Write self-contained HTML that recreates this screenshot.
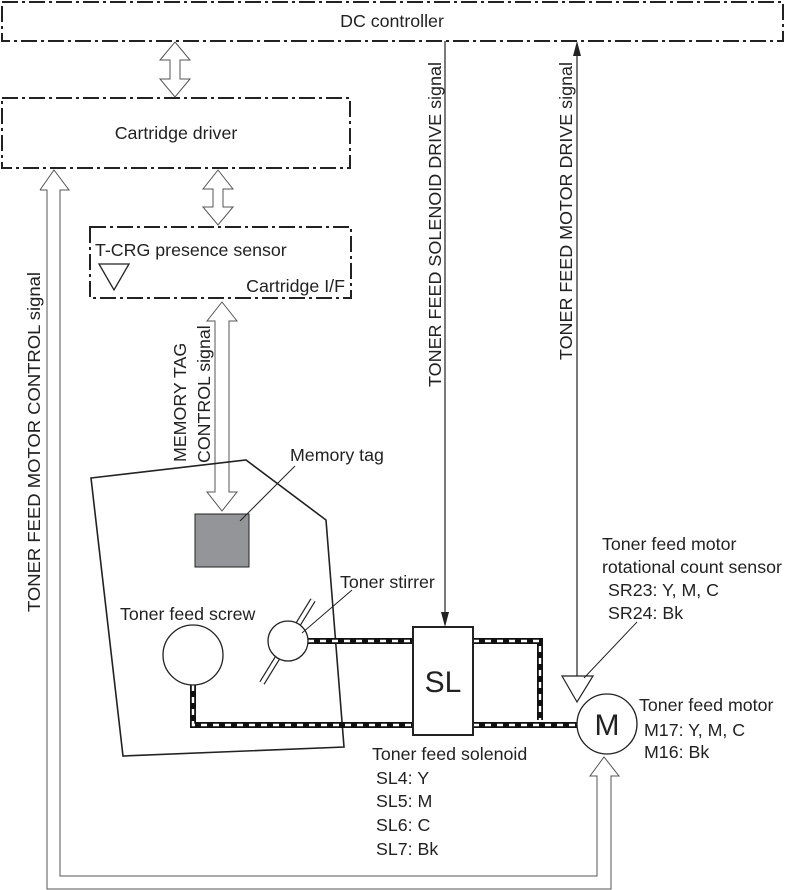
<!DOCTYPE html>
<html><head><meta charset="utf-8"><style>
html,body{margin:0;padding:0;background:#fff}
svg{display:block}
text{font-family:"Liberation Sans",Arial,sans-serif;font-size:17.8px;fill:#222}
</style></head><body>
<svg width="785" height="890" viewBox="0 0 785 890" xmlns="http://www.w3.org/2000/svg">
<g fill="none" stroke="#222" stroke-width="2" stroke-dasharray="16,4,3,4">
<rect x="2" y="2" width="781" height="39"/>
<rect x="2" y="98" width="348" height="70"/>
<rect x="90" y="227" width="261" height="71"/>
</g>
<text x="392" y="27" text-anchor="middle">DC controller</text>
<text x="176" y="139" text-anchor="middle">Cartridge driver</text>
<text x="95" y="256">T-CRG presence sensor</text>
<text x="345" y="292" text-anchor="end">Cartridge I/F</text>
<polygon points="99,264 129,264 114,290" fill="none" stroke="#222" stroke-width="1.3"/>

<g fill="#fff" stroke="#555" stroke-width="1">
<polygon points="175,42 190,60 180,60 180,79 190,79 175,97 160,79 170,79 170,60 160,60"/>
<polygon points="218,170 233,189 223,189 223,207 233,207 218,225 203,207 213,207 213,189 203,189"/>
<polygon points="222,302 237,321 229,321 229,492 237,492 222,511 207,492 215,492 215,321 207,321"/>
<polyline points="40,190 54,170 69,190 60,190 60,876 597,876 597,776 590,776 604,757 619,776 611,776 611,889 47,889 47,190 40,190"/>
</g>

<polygon points="91,478 246,460 326,520 344,747 123,756" fill="none" stroke="#222" stroke-width="1.6"/>
<rect x="195" y="514" width="54" height="53" fill="#939598" stroke="#222" stroke-width="1"/>
<line x1="295" y1="466" x2="240" y2="521" stroke="#222" stroke-width="1"/>
<text x="290" y="461">Memory tag</text>
<text transform="translate(186,462) rotate(-90)">MEMORY TAG</text>
<text transform="translate(210,463) rotate(-90)">CONTROL signal</text>

<text transform="translate(40,612) rotate(-90)" textLength="340" lengthAdjust="spacingAndGlyphs">TONER FEED MOTOR CONTROL signal</text>
<text transform="translate(441,387) rotate(-90)" textLength="325" lengthAdjust="spacingAndGlyphs">TONER FEED SOLENOID DRIVE signal</text>
<text transform="translate(572,360) rotate(-90)" textLength="298" lengthAdjust="spacingAndGlyphs">TONER FEED MOTOR DRIVE signal</text>

<line x1="445" y1="41" x2="445" y2="612" stroke="#222" stroke-width="1.2"/>
<polygon points="441,612 449,612 445,627" fill="#222"/>
<line x1="577" y1="56" x2="577" y2="676" stroke="#222" stroke-width="1.2"/>
<polygon points="573,56 581,56 577,41" fill="#222"/>

<g fill="none" stroke-linejoin="miter">
<polyline points="308,641 413,641" stroke="#111" stroke-width="6"/>
<polyline points="473,641 540,641 540,720" stroke="#111" stroke-width="6"/>
<polyline points="193,685 193,725 413,725" stroke="#111" stroke-width="6"/>
<polyline points="473,725 577,725" stroke="#111" stroke-width="6"/>
<g stroke="#fff" stroke-width="2.4" stroke-dasharray="6,6">
<polyline points="308,641 413,641"/>
<polyline points="473,641 540,641 540,720"/>
<polyline points="193,685 193,725 413,725"/>
<polyline points="473,725 577,725"/>
</g>
</g>

<circle cx="193" cy="655" r="30" fill="#fff" stroke="#222" stroke-width="1.3"/>
<text x="120" y="620">Toner feed screw</text>
<line x1="262" y1="683" x2="313" y2="600" stroke="#222" stroke-width="6"/>
<line x1="262" y1="683" x2="313" y2="600" stroke="#fff" stroke-width="3.6"/>
<circle cx="288" cy="641" r="20" fill="#fff" stroke="#222" stroke-width="1.3"/>
<line x1="352" y1="590" x2="302" y2="633" stroke="#222" stroke-width="1"/>
<text x="340" y="588">Toner stirrer</text>

<rect x="413" y="627" width="60" height="108" fill="#fff" stroke="#222" stroke-width="2"/>
<text x="443" y="692" text-anchor="middle" style="font-size:30px">SL</text>
<text x="372" y="760">Toner feed solenoid</text>
<text x="376" y="784">SL4: Y</text>
<text x="376" y="807">SL5: M</text>
<text x="376" y="831">SL6: C</text>
<text x="376" y="855">SL7: Bk</text>

<polygon points="562,676 593,676 577,702" fill="#fff" stroke="#222" stroke-width="1.2"/>
<line x1="637" y1="622" x2="584" y2="678" stroke="#222" stroke-width="1"/>
<circle cx="607" cy="724" r="30" fill="#fff" stroke="#222" stroke-width="1.3"/>
<text x="607" y="735" text-anchor="middle" style="font-size:30px">M</text>
<text x="602" y="550">Toner feed motor</text>
<text x="602" y="573">rotational count sensor</text>
<text x="608" y="596">SR23: Y, M, C</text>
<text x="608" y="619">SR24: Bk</text>
<text x="639" y="711">Toner feed motor</text>
<text x="644" y="736">M17: Y, M, C</text>
<text x="644" y="758">M16: Bk</text>
</svg>
</body></html>
